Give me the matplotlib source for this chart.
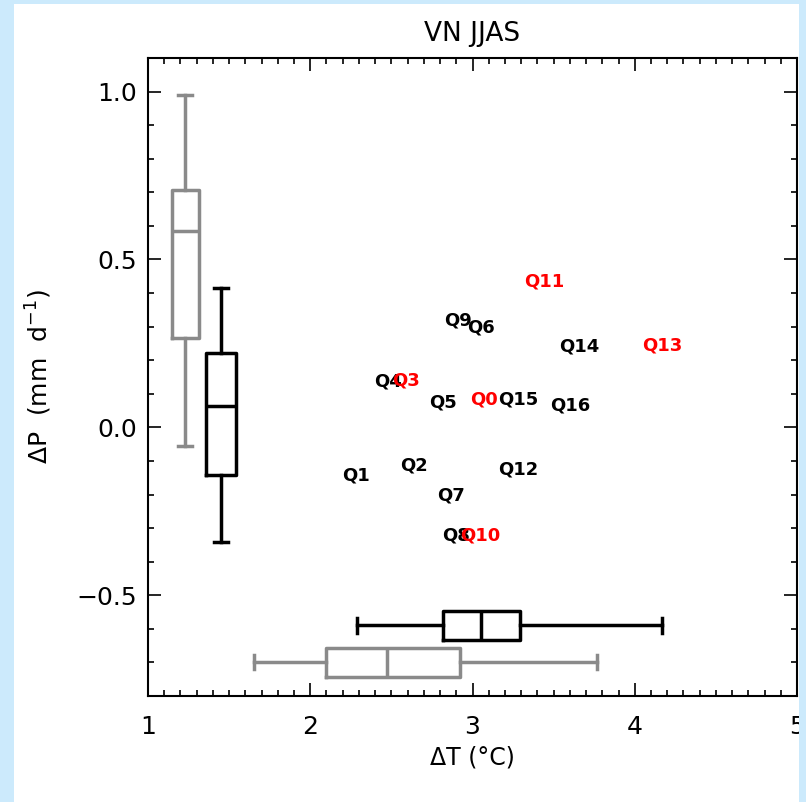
import matplotlib
matplotlib.use('Agg')
import matplotlib.pyplot as plt
from matplotlib.patches import Rectangle
from matplotlib.ticker import MultipleLocator

# model labels: warming (dT) vs precipitation change (dP)
names = ['Q0', 'Q1', 'Q2', 'Q3', 'Q4', 'Q5', 'Q6', 'Q7', 'Q8',
         'Q9', 'Q10', 'Q11', 'Q12', 'Q13', 'Q14', 'Q15', 'Q16']
dT = [3.07, 2.28, 2.64, 2.59, 2.48, 2.82, 3.05, 2.87, 2.90,
      2.91, 3.05, 3.44, 3.28, 4.17, 3.66, 3.28, 3.60]
dP = [0.084, -0.142, -0.114, 0.139, 0.136, 0.074, 0.296, -0.204, -0.323,
      0.318, -0.323, 0.433, -0.125, 0.245, 0.240, 0.082, 0.065]
red_models = ['Q0', 'Q3', 'Q10', 'Q11', 'Q13']

# box summaries (whislo, q1, med, q3, whishi)
gray_dP = [-0.055, 0.266, 0.586, 0.707, 0.990]
black_dP = [-0.341, -0.142, 0.064, 0.221, 0.415]
black_dT = [2.29, 2.82, 3.05, 3.29, 4.17]
gray_dT = [1.655, 2.10, 2.47, 2.92, 3.765]

gray = '#8a8a8a'
blue = '#cceafc'

plt.rcParams['font.family'] = ['DejaVu Sans']

fig = plt.figure(figsize=(8.06, 8.02), dpi=100)
ax = fig.add_axes([148/806, 106/802, 649/806, 638/802])


def stats(v):
    return dict(whislo=v[0], q1=v[1], med=v[2], q3=v[3], whishi=v[4], fliers=[])


def props(c):
    return dict(boxprops=dict(color=c, linewidth=2.5),
                whiskerprops=dict(color=c, linewidth=2.5),
                capprops=dict(color=c, linewidth=2.5),
                medianprops=dict(color=c, linewidth=2.5))


ax.bxp([stats(gray_dP)], positions=[1.23], widths=0.17, showfliers=False,
       manage_ticks=False, **props(gray))
ax.bxp([stats(black_dP)], positions=[1.45], widths=0.18, showfliers=False,
       manage_ticks=False, **props('black'))
ax.bxp([stats(black_dT)], positions=[-0.59], widths=0.086, showfliers=False,
       manage_ticks=False, orientation='horizontal', **props('black'))
ax.bxp([stats(gray_dT)], positions=[-0.70], widths=0.084, showfliers=False,
       manage_ticks=False, orientation='horizontal', **props(gray))

# black labels first, red ones on top
for n, x, y in zip(names, dT, dP):
    if n not in red_models:
        ax.text(x, y, n, ha='center', va='center', fontsize=13,
                fontweight='bold', color='black')
for n, x, y in zip(names, dT, dP):
    if n in red_models:
        ax.text(x, y, n, ha='center', va='center', fontsize=13,
                fontweight='bold', color='red')

ax.set_xlim(1, 5)
ax.set_ylim(-0.8, 1.1)
ax.xaxis.set_major_locator(MultipleLocator(1))
ax.xaxis.set_minor_locator(MultipleLocator(0.1))
ax.yaxis.set_major_locator(MultipleLocator(0.5))
ax.yaxis.set_minor_locator(MultipleLocator(0.1))
ax.tick_params(which='both', direction='in', top=True, right=True, width=1.2)
ax.tick_params(which='major', length=9.5, labelsize=18)
ax.tick_params(which='minor', length=4.5)
ax.tick_params(axis='x', which='major', pad=14)
ax.tick_params(axis='y', which='major', pad=8)
for s in ax.spines.values():
    s.set_linewidth(1.5)

ax.set_title('VN JJAS', fontsize=19, pad=12)
ax.set_xlabel('ΔT (°C)', fontsize=17, labelpad=4)
ax.set_ylabel('ΔP  (mm  d$^{-1}$)', fontsize=18, labelpad=16)

# light blue frame around the page
for r in [(0, 0, 14/806, 1), (0, 1 - 4/802, 1, 4/802), (799/806, 0, 7/806, 1)]:
    fig.add_artist(Rectangle((r[0], r[1]), r[2], r[3], transform=fig.transFigure,
                             facecolor=blue, edgecolor='none', zorder=10))

fig.savefig('out.png', dpi=100)
